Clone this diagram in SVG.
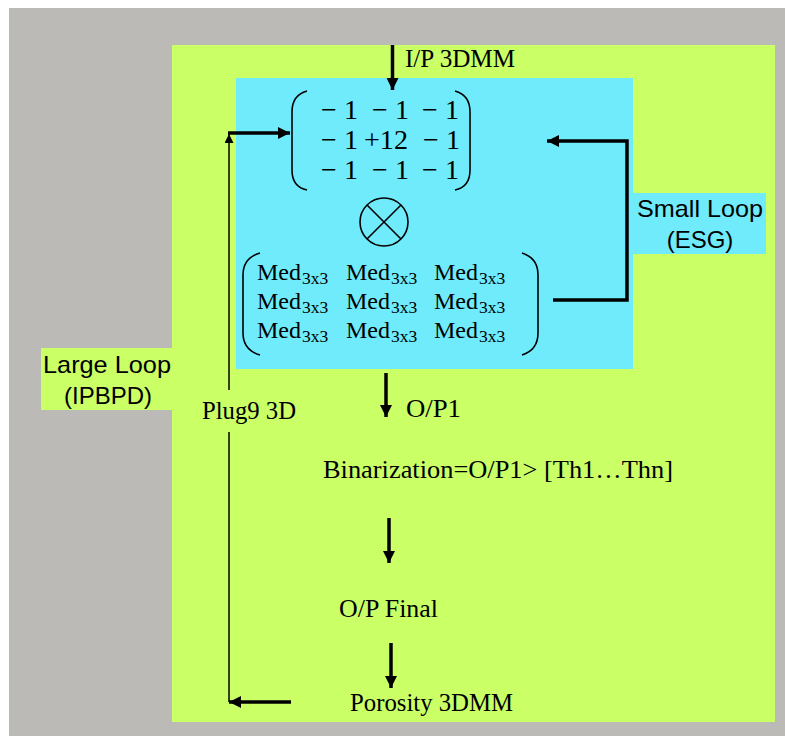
<svg xmlns="http://www.w3.org/2000/svg" width="785" height="736" viewBox="0 0 785 736">
<defs>
<style>
.serif{font-family:"Liberation Serif","Times New Roman",serif;fill:#000}
.sans{font-family:"Liberation Sans",Arial,sans-serif;fill:#000;font-size:24px}
.thick{stroke:#000;stroke-width:3.5;fill:none}
.thin{stroke:#000;stroke-width:1.5;fill:none}
.paren{stroke:#000;stroke-width:1.6;fill:none}
.m{font-size:25px}
.k{font-size:28px}
.med{font-size:24px}
.sub{font-size:17.5px}
</style>
<marker id="ah" markerUnits="userSpaceOnUse" markerWidth="13" markerHeight="12" refX="12" refY="6" orient="auto">
<path d="M0,0 L12,6 L0,12 z" fill="#000"/>
</marker>
<marker id="ahs" markerUnits="userSpaceOnUse" markerWidth="10" markerHeight="9" refX="9" refY="4.5" orient="auto">
<path d="M0,0 L9,4.5 L0,9 z" fill="#000"/>
</marker>
</defs>
<rect x="9" y="8" width="776" height="728" fill="#BCBAB6"/>
<rect id="frame" x="172" y="45" width="603" height="677" fill="#CAFF66"/>
<g id="largeLoopLabel">
<rect x="41" y="348" width="131" height="62" fill="#CAFF66"/>
<text class="sans" x="107" y="373" text-anchor="middle" textLength="128" lengthAdjust="spacingAndGlyphs">Large Loop</text>
<text class="sans" x="108" y="404" text-anchor="middle">(IPBPD)</text>
</g>
<g id="kernelBlock">
<rect x="236" y="78" width="397" height="291" fill="#6FEBFB"/>
<path class="paren" d="M307,91 Q292,95 292,112 L292,170 Q292,187 307,190"/>
<path class="paren" d="M455,91 Q470,95 470,112 L470,170 Q470,187 455,190"/>
<text class="serif k" y="119"><tspan x="321">−</tspan><tspan x="344">1</tspan><tspan x="372">−</tspan><tspan x="395">1</tspan><tspan x="422">−</tspan><tspan x="445">1</tspan></text>
<text class="serif k" y="149"><tspan x="321">−</tspan><tspan x="344">1</tspan><tspan x="364" textLength="44" lengthAdjust="spacingAndGlyphs">+12</tspan><tspan x="423">−</tspan><tspan x="446">1</tspan></text>
<text class="serif k" y="179"><tspan x="321">−</tspan><tspan x="344">1</tspan><tspan x="372">−</tspan><tspan x="395">1</tspan><tspan x="422">−</tspan><tspan x="445">1</tspan></text>
<circle class="paren" cx="384" cy="222" r="24"/>
<path class="paren" d="M367,205 L401,239 M401,205 L367,239"/>
<path class="paren" d="M260,253 Q243,258 243,275 L243,333 Q243,350 260,355"/>
<path class="paren" d="M522,253 Q538,258 538,275 L538,333 Q538,350 522,355"/>
<g class="serif med">
<text x="257" y="280">Med</text>
<text x="346" y="280">Med</text>
<text x="434" y="280">Med</text>
<text x="257" y="309">Med</text>
<text x="346" y="309">Med</text>
<text x="434" y="309">Med</text>
<text x="257" y="338">Med</text>
<text x="346" y="338">Med</text>
<text x="434" y="338">Med</text>
</g>
<g class="serif sub">
<text x="302" y="284">3x3</text>
<text x="391" y="284">3x3</text>
<text x="479" y="284">3x3</text>
<text x="302" y="313">3x3</text>
<text x="391" y="313">3x3</text>
<text x="479" y="313">3x3</text>
<text x="302" y="342">3x3</text>
<text x="391" y="342">3x3</text>
<text x="479" y="342">3x3</text>
</g>
</g>
<g id="smallLoopLabel">
<rect x="633" y="193" width="133" height="61" fill="#6FEBFB"/>
<text class="sans" x="700" y="217" text-anchor="middle" textLength="126" lengthAdjust="spacingAndGlyphs">Small Loop</text>
<text class="sans" x="700" y="248" text-anchor="middle">(ESG)</text>
</g>
<g id="inputLabel"><text class="serif m" x="405" y="67" textLength="110" lengthAdjust="spacingAndGlyphs">I/P 3DMM</text></g>
<g id="op1"><text class="serif m" x="406" y="417" textLength="55" lengthAdjust="spacingAndGlyphs">O/P1</text></g>
<g id="plug9"><text class="serif m" x="202" y="419" textLength="94" lengthAdjust="spacingAndGlyphs">Plug9 3D</text></g>
<g id="binarization"><text class="serif m" x="323" y="478" textLength="350" lengthAdjust="spacingAndGlyphs">Binarization=O/P1&gt; [Th1…Thn]</text></g>
<g id="opFinal"><text class="serif m" x="339" y="617" textLength="99" lengthAdjust="spacingAndGlyphs">O/P Final</text></g>
<g id="porosity"><text class="serif m" x="350" y="711" textLength="163" lengthAdjust="spacingAndGlyphs">Porosity 3DMM</text></g>
<g id="connectors">
<line class="thick" x1="392.5" y1="45" x2="392.5" y2="90" stroke-width="3" marker-end="url(#ah)"/>
<line class="thick" x1="228" y1="133" x2="290" y2="133" marker-end="url(#ah)"/>
<polyline class="thick" points="553,300 627,300 627,141 547,141" marker-end="url(#ah)"/>
<line class="thick" x1="386" y1="373" x2="386" y2="417" stroke-width="3" marker-end="url(#ah)"/>
<line class="thick" x1="389" y1="518" x2="389" y2="563" stroke-width="3" marker-end="url(#ah)"/>
<line class="thick" x1="391" y1="643" x2="391" y2="688" stroke-width="3" marker-end="url(#ah)"/>
<line class="thick" x1="291" y1="702" x2="229" y2="702" marker-end="url(#ah)"/>
<line class="thin" x1="229" y1="702" x2="229" y2="432"/>
<line class="thin" x1="229" y1="390" x2="229" y2="134" marker-end="url(#ahs)"/>
</g>
</svg>
